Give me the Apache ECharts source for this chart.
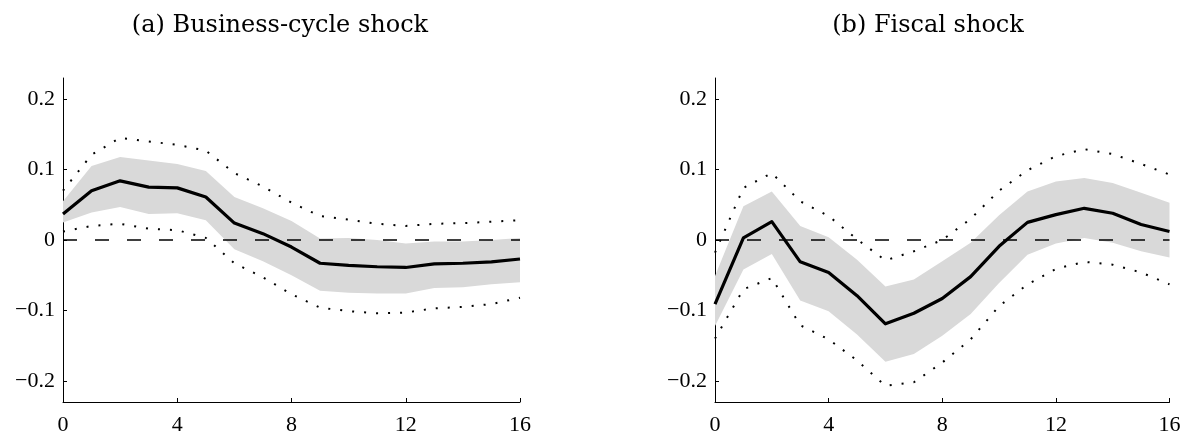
<!DOCTYPE html>
<html>
<head>
<meta charset="utf-8">
<script src="https://cdn.jsdelivr.net/npm/echarts@6/dist/echarts.min.js"></script>
<style>
html,body{margin:0;padding:0;background:#fff;}
#chart{width:1186px;height:436px;}
</style>
</head>
<body>
<div id="chart"></div>
<script>
// ---- data ----
const horizons = [0,1,2,3,4,5,6,7,8,9,10,11,12,13,14,15,16];
const panelTitles = ['(a) Business-cycle shock', '(b) Fiscal shock'];
const xTickValues = [0,4,8,12,16];
const yTickValues = [-0.2,-0.1,0,0.1,0.2];
const yTickLabels = ['\u22120.2','\u22120.1','0','0.1','0.2'];

// (a) Business-cycle shock
const bcMedian   = [0.037,0.070,0.084,0.075,0.074,0.061,0.024,0.009,-0.010,-0.033,-0.036,-0.038,-0.039,-0.034,-0.033,-0.031,-0.027];
const bcBandLow  = [0.025,0.039,0.047,0.037,0.038,0.028,-0.013,-0.030,-0.050,-0.072,-0.075,-0.076,-0.076,-0.068,-0.067,-0.063,-0.060];
const bcBandHigh = [0.055,0.105,0.118,0.113,0.108,0.098,0.061,0.045,0.027,0.002,0.003,0.000,-0.005,-0.002,-0.002,0.000,0.003];
const bcDotLow   = [0.012,0.020,0.023,0.016,0.014,0.003,-0.033,-0.053,-0.077,-0.096,-0.101,-0.104,-0.103,-0.097,-0.095,-0.091,-0.082];
const bcDotHigh  = [0.070,0.121,0.145,0.140,0.135,0.127,0.095,0.076,0.053,0.034,0.029,0.023,0.020,0.023,0.024,0.026,0.028];

// (b) Fiscal shock
const fsMedian   = [-0.091,0.003,0.026,-0.031,-0.046,-0.079,-0.119,-0.104,-0.083,-0.052,-0.009,0.025,0.036,0.045,0.038,0.022,0.012];
const fsBandLow  = [-0.122,-0.042,-0.020,-0.086,-0.101,-0.134,-0.173,-0.162,-0.136,-0.105,-0.061,-0.021,-0.005,0.003,-0.004,-0.016,-0.025];
const fsBandHigh = [-0.051,0.048,0.069,0.020,0.004,-0.028,-0.066,-0.056,-0.030,-0.004,0.035,0.069,0.083,0.088,0.081,0.067,0.053];
const fsDotLow   = [-0.140,-0.070,-0.054,-0.121,-0.141,-0.171,-0.207,-0.202,-0.174,-0.141,-0.094,-0.063,-0.041,-0.031,-0.035,-0.046,-0.063];
const fsDotHigh  = [-0.018,0.074,0.095,0.055,0.034,0.001,-0.029,-0.016,0.000,0.030,0.070,0.099,0.119,0.129,0.122,0.108,0.093];

const zeroLine = [0, 0];
const zeroX = [0, 16];

// ---- build ----
const pair = (xs, ys) => xs.map((x, i) => [x, ys[i]]);

const labelFont = {fontFamily: '"Liberation Serif", serif', fontSize: 22, color: '#000'};

function xAxis(gi) {
  return {
    gridIndex: gi, type: 'value', min: 0, max: 16, interval: 4,
    axisLine: {show: true, onZero: false, lineStyle: {color: '#000', width: 1}},
    axisTick: {show: true, inside: true, length: 4, lineStyle: {color: '#000', width: 1}},
    axisLabel: Object.assign({margin: 12, customValues: xTickValues}, labelFont),
    splitLine: {show: false}
  };
}
function yAxis(gi) {
  return {
    gridIndex: gi, type: 'value', min: -0.23, max: 0.23,
    axisLine: {show: true, onZero: false, lineStyle: {color: '#000', width: 1}},
    axisTick: {show: true, inside: true, length: 4, customValues: yTickValues, lineStyle: {color: '#000', width: 1}},
    axisLabel: Object.assign({
      margin: 8, customValues: yTickValues,
      formatter: v => {
        const i = yTickValues.findIndex(t => Math.abs(t - v) < 1e-9);
        return i >= 0 ? yTickLabels[i] : '';
      }
    }, labelFont),
    splitLine: {show: false}
  };
}

function bandSeries(gi, lo, hi) {
  return {
    type: 'custom', xAxisIndex: gi, yAxisIndex: gi, silent: true, z: 1,
    data: horizons.map((h, i) => [h, lo[i], hi[i]]),
    encode: {x: 0, y: [1, 2]},
    renderItem: (params, api) => {
      if (params.dataIndex !== 0) return null;
      const pts = [];
      for (let i = 0; i < horizons.length; i++) pts.push(api.coord([horizons[i], hi[i]]));
      for (let i = horizons.length - 1; i >= 0; i--) pts.push(api.coord([horizons[i], lo[i]]));
      return {type: 'polygon', shape: {points: pts}, style: {fill: '#d9d9d9', stroke: null}};
    }
  };
}

function panelSeries(gi, med, lo, hi, dlo, dhi) {
  return [
    bandSeries(gi, lo, hi),
    {type: 'line', xAxisIndex: gi, yAxisIndex: gi, data: pair(zeroX, zeroLine), symbol: 'none',
     lineStyle: {color: '#000', width: 1.3, type: [14, 18]}, silent: true, z: 3},
    {type: 'line', xAxisIndex: gi, yAxisIndex: gi, data: pair(horizons, dhi), symbol: 'none',
     lineStyle: {color: '#000', width: 2, type: [2, 10]}, silent: true, z: 4},
    {type: 'line', xAxisIndex: gi, yAxisIndex: gi, data: pair(horizons, dlo), symbol: 'none',
     lineStyle: {color: '#000', width: 2, type: [2, 10]}, silent: true, z: 4},
    {type: 'line', xAxisIndex: gi, yAxisIndex: gi, data: pair(horizons, med), symbol: 'none',
     lineStyle: {color: '#000', width: 3.2, join: 'round'}, silent: true, z: 5}
  ];
}

const chart = echarts.init(document.getElementById('chart'), null, {renderer: 'canvas'});
chart.setOption({
  animation: false,
  backgroundColor: '#fff',
  grid: [
    {left: 63, right: 666, top: 78, bottom: 34},
    {left: 715, right: 16.5, top: 78, bottom: 34}
  ],
  xAxis: [xAxis(0), xAxis(1)],
  yAxis: [yAxis(0), yAxis(1)],
  graphic: [
    {type: 'text', x: 280, y: 26, style: {text: panelTitles[0], textAlign: 'center', textVerticalAlign: 'middle',
      font: '24px "DejaVu Serif"', fill: '#000'}},
    {type: 'text', x: 928, y: 26, style: {text: panelTitles[1], textAlign: 'center', textVerticalAlign: 'middle',
      font: '24px "DejaVu Serif"', fill: '#000'}}
  ],
  series: [].concat(
    panelSeries(0, bcMedian, bcBandLow, bcBandHigh, bcDotLow, bcDotHigh),
    panelSeries(1, fsMedian, fsBandLow, fsBandHigh, fsDotLow, fsDotHigh)
  )
});
</script>
</body>
</html>
